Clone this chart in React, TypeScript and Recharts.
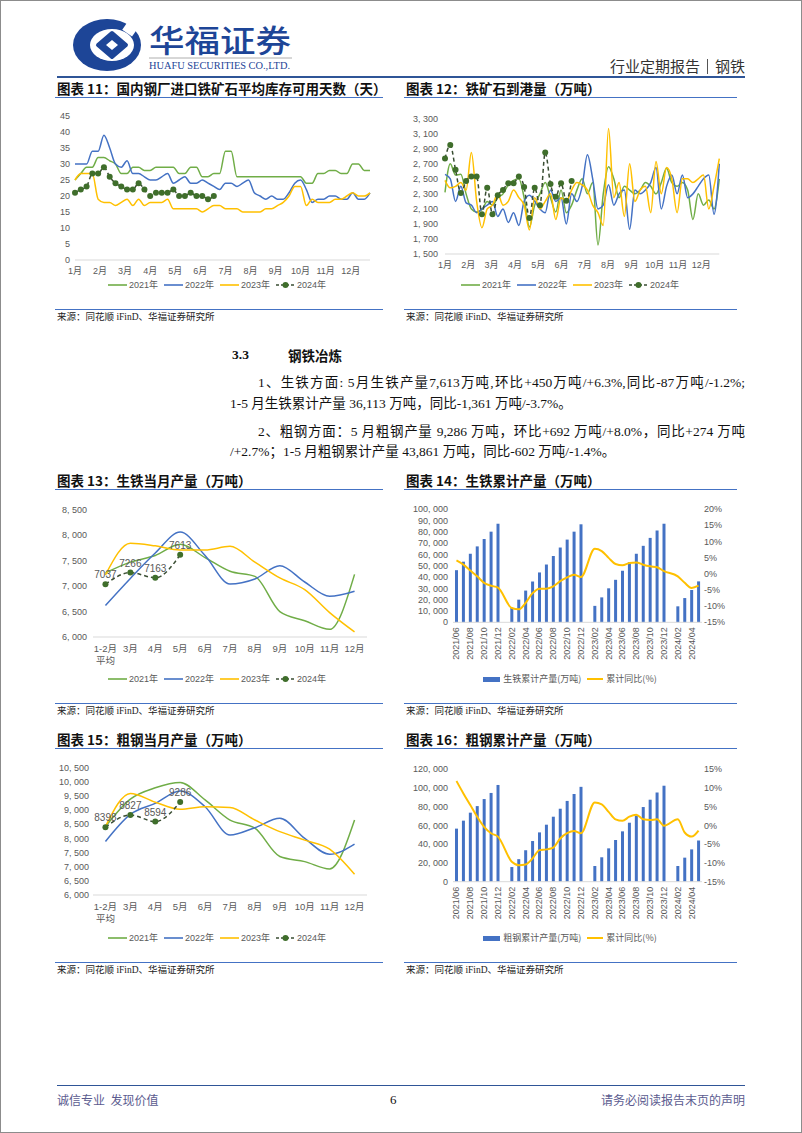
import React from "react";
import { LineChart, Line, XAxis, YAxis, ComposedChart, Bar, LabelList } from "recharts";

// ---- labels ----
const monthLabels = ["1月", "2月", "3月", "4月", "5月", "6月", "7月", "8月", "9月", "10月", "11月", "12月"];
const prodCats = ["1-2月\n平均", "3月", "4月", "5月", "6月", "7月", "8月", "9月", "10月", "11月", "12月"];
const cumMonths = [
  "2021/06", "2021/07", "2021/08", "2021/09", "2021/10", "2021/11", "2021/12",
  "2022/01", "2022/02", "2022/03", "2022/04", "2022/05", "2022/06", "2022/07", "2022/08", "2022/09", "2022/10", "2022/11", "2022/12",
  "2023/01", "2023/02", "2023/03", "2023/04", "2023/05", "2023/06", "2023/07", "2023/08", "2023/09", "2023/10", "2023/11", "2023/12",
  "2024/01", "2024/02", "2024/03", "2024/04", "2024/05",
];

// ---- 图表11: 库存可用天数 (weekly) ----
const inv2021 = [25, 27, 29, 29, 32, 32, 31, 30, 27, 27, 29, 29, 28, 28, 29, 29, 29, 29, 27, 27, 29, 29, 26, 26, 27, 27, 34, 34, 26, 26, 26, 26, 26, 26, 26, 26, 26, 26, 26, 26, 24, 24, 27, 27, 28, 28, 27, 27, 30, 30, 28, 28];
const inv2022 = [30, 30, 30, 34, 34, 39, 35, 30, 29, 31, 27, 27, 26, 25, 25, 26, 27, 24, 25, 26, 24, 24, 25, 24, 23, 22, 24, 24, 23, 24, 25, 21, 20, 19, 20, 19, 19, 21, 24, 25, 22, 18, 19, 19, 20, 20, 19, 19, 21, 19, 19, 21];
const inv2023 = [25, 27, 27, 27, 19, 18, 18, 17, 18, 19, 17, 19, 17, 18, 18, 18, 19, 16, 16, 16, 16, 16, 15, 16, 17, 17, 16, 16, 16, 15, 15, 15, 15, 16, 16, 17, 18, 20, 23, 23, 17, 19, 18, 18, 18, 19, 19, 20, 21, 20, 20, 21];
const inv2024 = [21, 22, 23, 27, 27, 29, 26, 24, 23, 22, 22, 24, 22, 20, 21, 21, 21, 22, 20, 20, 21, 20, 20, 19, 20];

// ---- 图表12: 铁矿石到港量 (weekly) ----
const arr2021 = [2320, 2700, 2550, 2560, 2300, 2100, 2060, 2090, 2200, 2150, 2250, 2300, 2420, 2480, 2500, 2250, 1860, 2150, 2300, 2450, 2250, 2060, 2350, 2050, 2150, 2350, 2500, 2300, 2450, 1620, 2300, 2660, 2500, 2250, 2400, 2350, 2300, 2350, 2450, 2400, 2300, 2450, 2640, 2450, 2400, 2450, 2350, 1960, 2300, 2150, 2220, 2100, 2500];
const arr2022 = [2560, 2500, 2200, 2400, 2180, 2150, 2050, 2100, 2150, 2200, 2000, 2100, 1920, 2050, 1880, 2200, 2280, 2200, 2100, 2050, 2350, 2200, 2250, 1900, 2300, 2200, 2400, 2820, 2500, 2100, 2150, 2420, 2150, 2300, 2350, 1830, 2350, 2300, 2350, 2450, 2650, 2100, 2400, 2550, 2300, 2550, 2250, 2300, 2400, 2500, 2550, 2030, 2700];
const arr2023 = [2480, 2380, 2400, 2450, 2350, 2850, 2200, 1850, 2100, 2150, 2300, 2150, 2200, 2350, 2250, 2150, 1820, 2250, 2100, 2200, 2300, 1960, 2250, 2200, 2350, 2450, 2420, 2350, 2150, 2050, 1880, 3170, 2250, 2450, 2000, 2700, 2200, 2350, 2400, 2050, 2730, 2300, 2650, 2500, 2050, 2500, 2500, 2450, 2500, 2550, 2100, 2400, 2770];
const arr2024 = [2770, 2950, 2620, 2310, 2470, 2530, 2530, 2030, 2380, 2030, 2280, 2350, 2440, 2440, 2530, 2390, 1980, 2380, 2150, 2850, 2430, 2260, 2440, 2210, 2470];

// ---- 图表13: 生铁当月产量 ----
const pig2021 = [7260, 7470, 7600, 7820, 7560, 7290, 7190, 6500, 6320, 6150, 7230];
const pig2022 = [6620, 7150, 7650, 8060, 7600, 7040, 7140, 7400, 7080, 6800, 6900];
const pig2023 = [7220, 7840, 7790, 7710, 7710, 7780, 7470, 7160, 6930, 6480, 6100];
const pig2024 = [7037, 7266, 7163, 7613];

// ---- 图表15: 粗钢当月产量 ----
const steel2021 = [8420, 9390, 9790, 9980, 9360, 8650, 8360, 7360, 7180, 6920, 8650];
const steel2022 = [7890, 8850, 9240, 9680, 9120, 8120, 8380, 8710, 8000, 7440, 7800];
const steel2023 = [8420, 9590, 9280, 9030, 9120, 9090, 8650, 8240, 7940, 7620, 6730];
const steel2024 = [8398, 8827, 8594, 9286];

// ---- 图表14: 生铁累计 ----
const pigCum = [46000, 53500, 60500, 67000, 73500, 80000, 87000, null, 12700, 20000, 28000, 36000, 44000, 51000, 58500, 66000, 73000, 80000, 86500, null, 14500, 22000, 30000, 37500, 45500, 53000, 60500, 67500, 74500, 81000, 87000, null, 14100, 21400, 28500, 36113];
const pigYoy = [4.1, 2.8, 1.0, -0.8, -2.8, -3.7, -4.3, null, -10.6, -11.0, -9.0, -6.0, -4.6, -4.6, -3.9, -2.3, -1.1, -0.3, -1.0, null, 7.7, 7.0, 4.9, 3.0, 2.6, 3.3, 3.5, 2.8, 2.3, 2.0, 0.8, null, -0.8, -2.8, -4.4, -3.7];

// ---- 图表16: 粗钢累计 ----
const steelCum = [56500, 65000, 73500, 80500, 88000, 94500, 103000, null, 15600, 24000, 33500, 43300, 52500, 60700, 69200, 77700, 86000, 93400, 101000, null, 16700, 26000, 35500, 44400, 53600, 62800, 70300, 79500, 87300, 95100, 102200, null, 16700, 25600, 34400, 43861];
const steelYoy = [11.8, 8.5, 5.4, 2.3, -0.4, -2.1, -3.0, null, -9.7, -10.6, -10.4, -8.8, -6.6, -6.4, -5.9, -3.5, -2.1, -1.5, -2.1, null, 6.1, 5.6, 3.6, 1.6, 1.2, 2.3, 2.8, 1.6, 1.4, 1.6, -0.1, null, 1.6, -1.9, -3.0, -1.4];

// ---- tables for recharts ----
const invData = inv2021.map((v, i) => ({ w: i, y2021: v, y2022: inv2022[i], y2023: inv2023[i], y2024: inv2024[i] ?? null }));
const arrData = arr2021.map((v, i) => ({ w: i, y2021: v, y2022: arr2022[i], y2023: arr2023[i], y2024: arr2024[i] ?? null }));
const pigData = prodCats.map((c, i) => ({ c, y2021: pig2021[i], y2022: pig2022[i], y2023: pig2023[i], y2024: pig2024[i] ?? null }));
const steelData = prodCats.map((c, i) => ({ c, y2021: steel2021[i], y2022: steel2022[i], y2023: steel2023[i], y2024: steel2024[i] ?? null }));
const pigCumData = cumMonths.map((m, i) => ({ m, cum: pigCum[i], yoy: pigYoy[i] }));
const steelCumData = cumMonths.map((m, i) => ({ m, cum: steelCum[i], yoy: steelYoy[i] }));

const weeks11 = 52;
const weeks12 = 53;
const ticks11 = monthLabels.map((_, k) => (k * weeks11) / 12);
const ticks12 = monthLabels.map((_, k) => (k * weeks12) / 12);

const SANS = "'Liberation Sans', Arial, 'Noto Sans CJK SC', sans-serif";
const SERIF = "'Liberation Serif', 'Noto Sans CJK SC', serif";
const CJK = "'Noto Sans CJK SC', sans-serif";
const C21 = "#70AD47";
const C22 = "#4472C4";
const C23 = "#FFC000";
const C24 = "#3F6E2B";
const C24L = "#3A4E33";
const AXIS = "#D9D9D9";
const TXT = "#595959";
const BLUE = "#4472C4";

const tick = { fontSize: 9, fill: TXT };
// comma followed by a no-break space, so recharts does not wrap the label
const fmt = (v: number) => v.toLocaleString("en-US").replace(/,/g, ",\u00A0");

function yearLines() {
  return [
    <Line key="a" dataKey="y2021" stroke={C21} strokeWidth={1.5} dot={false} type="monotone" isAnimationActive={false} />,
    <Line key="b" dataKey="y2022" stroke={C22} strokeWidth={1.5} dot={false} type="monotone" isAnimationActive={false} />,
    <Line key="c" dataKey="y2023" stroke={C23} strokeWidth={1.5} dot={false} type="monotone" isAnimationActive={false} />,
  ];
}

function CatTick(props: any) {
  const { x, y, payload } = props;
  const parts = String(payload.value).split("\n");
  return (
    <text x={x} y={y} textAnchor="middle" fontSize={9.5} fill={TXT}>
      {parts.map((p, k) => (
        <tspan key={k} x={x} dy={k === 0 ? "0.71em" : "1.25em"}>{p}</tspan>
      ))}
    </text>
  );
}

function RotTick(props: any) {
  const { x, y, payload } = props;
  return (
    <text x={x} y={y} transform={`rotate(-90 ${x} ${y})`} textAnchor="end" dominantBaseline="central" fontSize={9} fill={TXT}>
      {payload.value}
    </text>
  );
}

function LegendIcon({ color, dashed }: { color: string; dashed?: boolean }) {
  return (
    <svg width={19} height={8} style={{ display: "block", flex: "none" }}>
      <line x1={0} y1={4} x2={19} y2={4} stroke={dashed ? C24L : color} strokeWidth={1.6} strokeDasharray={dashed ? "3 2" : undefined} />
      {dashed && <circle cx={9.5} cy={4} r={3} fill={C24} />}
    </svg>
  );
}

function YearLegend({ cx, cy }: { cx: number; cy: number }) {
  const items = [
    { t: "2021年", c: C21 },
    { t: "2022年", c: C22 },
    { t: "2023年", c: C23 },
    { t: "2024年", c: C24, d: true },
  ];
  return (
    <div style={{ position: "absolute", left: cx - 150, top: cy - 6, width: 300, height: 12, display: "flex", justifyContent: "center", alignItems: "center", gap: 6, fontFamily: SANS, fontSize: 9, lineHeight: "12px", color: TXT, whiteSpace: "nowrap" }}>
      {items.map((it) => (
        <div key={it.t} style={{ display: "flex", alignItems: "center", gap: 2, flex: "none" }}>
          <LegendIcon color={it.c} dashed={it.d} />
          <span>{it.t}</span>
        </div>
      ))}
    </div>
  );
}

function CumLegend({ cx, cy, name }: { cx: number; cy: number; name: string }) {
  return (
    <div style={{ position: "absolute", left: cx - 150, top: cy - 6, width: 300, height: 12, display: "flex", justifyContent: "center", alignItems: "center", gap: 3, fontFamily: CJK, fontSize: 9, lineHeight: "12px", color: TXT, whiteSpace: "nowrap" }}>
      <div style={{ width: 17, height: 5, background: BLUE, flex: "none" }} />
      <span>{name}</span>
      <div style={{ width: 16, height: 2, background: C23, marginLeft: 3, flex: "none" }} />
      <span>累计同比(%)</span>
    </div>
  );
}

function Title({ x, y, w, text }: { x: number; y: number; w: number; text: string }) {
  return (
    <>
      <div style={{ position: "absolute", left: x + 2, top: y, whiteSpace: "nowrap", fontFamily: CJK, fontWeight: 700, fontSize: 13.5, lineHeight: "16px", color: "#111" }}>{text}</div>
      <div style={{ position: "absolute", left: x, top: y + 17, width: w, height: 1, background: BLUE }} />
    </>
  );
}

function Source({ x, y, w }: { x: number; y: number; w: number }) {
  return (
    <>
      <div style={{ position: "absolute", left: x, top: y, width: w, height: 1, background: BLUE }} />
      <div style={{ position: "absolute", left: x + 2, top: y + 2, whiteSpace: "nowrap", fontFamily: SERIF, fontSize: 9.5, lineHeight: "12px", color: "#222" }}>
        来源：同花顺 iFinD、华福证券研究所
      </div>
    </>
  );
}

function InventoryChart() {
  return (
    <div style={{ position: "absolute", left: 50, top: 100, fontFamily: SANS }}>
      <LineChart width={330} height={180} data={invData} margin={{ top: 16, right: 10, left: 5, bottom: 0 }}>
        <XAxis dataKey="w" type="number" domain={[0, weeks11 - 1]} ticks={ticks11} interval={0} tickFormatter={(v: number) => monthLabels[Math.round((v * 12) / weeks11)]} axisLine={{ stroke: AXIS }} tickLine={false} tick={tick} height={20} />
        <YAxis domain={[0, 45]} ticks={[0, 5, 10, 15, 20, 25, 30, 35, 40, 45]} interval={0} width={20} axisLine={false} tickLine={false} tickSize={0} tickMargin={5} tick={tick} />
        {yearLines()}
        <Line dataKey="y2024" stroke={C24L} strokeWidth={1.5} strokeDasharray="4 3" type="monotone" dot={{ r: 3, fill: C24, stroke: C24, strokeWidth: 0 }} isAnimationActive={false} />
      </LineChart>
    </div>
  );
}

function ArrivalChart() {
  return (
    <div style={{ position: "absolute", left: 400, top: 100, fontFamily: SANS }}>
      <LineChart width={330} height={174} data={arrData} margin={{ top: 18.7, right: 10.7, left: 0, bottom: 0 }}>
        <XAxis dataKey="w" type="number" domain={[0, weeks12 - 1]} ticks={ticks12} interval={0} tickFormatter={(v: number) => monthLabels[Math.round((v * 12) / weeks12)]} axisLine={{ stroke: AXIS }} tickLine={false} tick={tick} height={20} />
        <YAxis domain={[1500, 3300]} ticks={[1500, 1700, 1900, 2100, 2300, 2500, 2700, 2900, 3100, 3300]} interval={0} tickFormatter={fmt} width={45} axisLine={false} tickLine={false} tickSize={0} tickMargin={7} tick={tick} />
        {yearLines()}
        <Line dataKey="y2024" stroke={C24L} strokeWidth={1.5} strokeDasharray="4 3" type="monotone" dot={{ r: 3, fill: C24, stroke: C24, strokeWidth: 0 }} isAnimationActive={false} />
      </LineChart>
    </div>
  );
}

function MonthlyChart({ top, height, mTop, data, domain, ticks, labelMargin }: any) {
  return (
    <div style={{ position: "absolute", left: 50, top, fontFamily: SANS }}>
      <LineChart width={330} height={height} data={data} margin={{ top: mTop, right: 13, left: 0, bottom: 0 }}>
        <XAxis dataKey="c" interval={0} padding={{ left: 12.45, right: 12.45 }} axisLine={{ stroke: AXIS }} tickLine={false} tick={<CatTick />} height={30} />
        <YAxis domain={domain} ticks={ticks} interval={0} tickFormatter={fmt} width={43} axisLine={false} tickLine={false} tickSize={0} tickMargin={labelMargin} tick={tick} />
        {yearLines()}
        <Line dataKey="y2024" stroke={C24L} strokeWidth={1.5} strokeDasharray="4 3" type="monotone" dot={{ r: 3, fill: C24, stroke: C24, strokeWidth: 0 }} isAnimationActive={false}>
          <LabelList dataKey="y2024" position="top" offset={6} fill={TXT} fontSize={10} />
        </Line>
      </LineChart>
    </div>
  );
}

function CumChart({ top, height, mTop, data, lDomain, lTicks, rDomain, rTicks }: any) {
  return (
    <div style={{ position: "absolute", left: 400, top, fontFamily: SANS }}>
      <ComposedChart width={345} height={height} data={data} margin={{ top: mTop, right: 5, left: 0, bottom: 0 }}>
        <XAxis dataKey="m" interval={1} axisLine={{ stroke: AXIS }} tickLine={false} tickSize={0} tickMargin={5} tick={<RotTick />} height={42.7} />
        <YAxis yAxisId="l" domain={lDomain} ticks={lTicks} interval={0} tickFormatter={fmt} width={53} axisLine={false} tickLine={false} tickSize={0} tickMargin={5} tick={tick} />
        <YAxis yAxisId="r" orientation="right" domain={rDomain} ticks={rTicks} interval={0} tickFormatter={(v: number) => `${v}%`} width={38} axisLine={false} tickLine={false} tickSize={0} tickMargin={2} tick={tick} />
        <Bar yAxisId="l" dataKey="cum" fill={BLUE} barSize={3} isAnimationActive={false} />
        <Line yAxisId="r" dataKey="yoy" stroke={C23} strokeWidth={2} dot={false} type="monotone" connectNulls isAnimationActive={false} />
      </ComposedChart>
    </div>
  );
}

function Logo() {
  return (
    <svg style={{ position: "absolute", left: 66, top: 16 }} width={82} height={58} viewBox="0 0 82 58">
      <ellipse cx={41} cy={29} rx={34} ry={26} fill="#1D4597" />
      <ellipse cx={46} cy={29} rx={22} ry={16} fill="#fff" />
      <path d="M46 17 L60 29 L46 41 L32 29 Z" fill="#1D4597" stroke="#1D4597" strokeWidth={4} strokeLinejoin="round" />
      <path d="M46 24 L52 29 L46 34 L40 29 Z" fill="#fff" />
      <rect x={58} y={8} width={12} height={10} fill="#fff" transform="rotate(35 64 13)" />
    </svg>
  );
}

export default function App() {
  const body: React.CSSProperties = { position: "absolute", fontFamily: SERIF, fontSize: 13.5, lineHeight: "18px", color: "#111", whiteSpace: "nowrap" };
  return (
    <div style={{ position: "absolute", left: 0, top: 0, width: 802, height: 1133, background: "#fff", overflow: "hidden" }}>
      {/* header */}
      <Logo />
      <svg style={{ position: "absolute", left: 146, top: 14 }} width={152} height={62}>
        <text x={3} y={38} textLength={142} lengthAdjust="spacingAndGlyphs" fontFamily={CJK} fontSize={31} fontWeight={500} fill="#1D4597">华福证券</text>
        <line x1={3} y1={44} x2={146} y2={44} stroke="#9a9a9a" strokeWidth={0.8} />
        <text x={3} y={55} textLength={141} lengthAdjust="spacingAndGlyphs" fontFamily="'Liberation Serif', serif" fontSize={10.5} fill="#1D4597">HUAFU SECURITIES CO.,LTD.</text>
      </svg>
      <div style={{ position: "absolute", right: 57, top: 57, fontFamily: CJK, fontSize: 15, lineHeight: "18px", color: "#333", display: "flex", alignItems: "center", gap: 7, whiteSpace: "nowrap" }}>
        <span>行业定期报告</span>
        <span style={{ width: 1, height: 15, background: "#555" }} />
        <span>钢铁</span>
      </div>
      <div style={{ position: "absolute", left: 57, top: 76, width: 688, height: 2, background: "#2F5597" }} />

      {/* row 1 */}
      <Title x={55} y={80} w={328} text="图表 11：国内钢厂进口铁矿石平均库存可用天数（天）" />
      <Title x={404} y={80} w={333} text="图表 12：铁矿石到港量（万吨）" />
      <InventoryChart />
      <ArrivalChart />
      <YearLegend cx={217} cy={285} />
      <YearLegend cx={570} cy={285} />
      <Source x={55} y={309} w={328} />
      <Source x={404} y={309} w={333} />

      {/* text */}
      <div style={{ ...body, left: 232, top: 346, fontWeight: 700 }}>3.3</div>
      <div style={{ ...body, left: 288, top: 346, fontFamily: CJK, fontWeight: 700, fontSize: 13.5 }}>钢铁冶炼</div>
      <div style={{ ...body, left: 258, top: 374, width: 487, textAlign: "justify", textAlignLast: "justify" }}>1、生铁方面: 5月生铁产量7,613万吨,环比+450万吨/+6.3%,同比-87万吨/-1.2%;</div>
      <div style={{ ...body, left: 230, top: 395 }}>1-5 月生铁累计产量 36,113 万吨，同比-1,361 万吨/-3.7%。</div>
      <div style={{ ...body, left: 258, top: 423, width: 487, textAlign: "justify", textAlignLast: "justify" }}>2、粗钢方面：5 月粗钢产量 9,286 万吨，环比+692 万吨/+8.0%，同比+274 万吨</div>
      <div style={{ ...body, left: 230, top: 443 }}>/+2.7%；1-5 月粗钢累计产量 43,861 万吨，同比-602 万吨/-1.4%。</div>

      {/* row 2 */}
      <Title x={55} y={472} w={328} text="图表 13：生铁当月产量（万吨）" />
      <Title x={404} y={472} w={333} text="图表 14：生铁累计产量（万吨）" />
      <MonthlyChart top={495} height={172} mTop={14.7} data={pigData} domain={[6000, 8500]} ticks={[6000, 6500, 7000, 7500, 8000, 8500]} labelMargin={6} />
      <CumChart top={495} height={170} mTop={14} data={pigCumData} lDomain={[0, 100000]} lTicks={[0, 10000, 20000, 30000, 40000, 50000, 60000, 70000, 80000, 90000, 100000]} rDomain={[-15, 20]} rTicks={[-15, -10, -5, 0, 5, 10, 15, 20]} />
      <YearLegend cx={217} cy={679} />
      <CumLegend cx={570} cy={679} name="生铁累计产量(万吨)" />
      <Source x={55} y={703} w={328} />
      <Source x={404} y={703} w={333} />

      {/* row 3 */}
      <Title x={55} y={731} w={328} text="图表 15：粗钢当月产量（万吨）" />
      <Title x={404} y={731} w={333} text="图表 16：粗钢累计产量（万吨）" />
      <MonthlyChart top={750} height={175} mTop={17.7} data={steelData} domain={[6000, 10500]} ticks={[6000, 6500, 7000, 7500, 8000, 8500, 9000, 9500, 10000, 10500]} labelMargin={4} />
      <CumChart top={750} height={174.4} mTop={19} data={steelCumData} lDomain={[0, 120000]} lTicks={[0, 20000, 40000, 60000, 80000, 100000, 120000]} rDomain={[-15, 15]} rTicks={[-15, -10, -5, 0, 5, 10, 15]} />
      <YearLegend cx={217} cy={938} />
      <CumLegend cx={570} cy={938} name="粗钢累计产量(万吨)" />
      <Source x={55} y={962} w={328} />
      <Source x={404} y={962} w={333} />

      {/* footer */}
      <div style={{ position: "absolute", left: 57, top: 1085, width: 688, height: 1, background: "#2F5597" }} />
      <div style={{ position: "absolute", left: 57, top: 1092, fontFamily: CJK, fontSize: 12, lineHeight: "16px", color: "#5B5B8F", whiteSpace: "pre" }}>诚信专业  发现价值</div>
      <div style={{ position: "absolute", left: 390, top: 1092, fontFamily: SERIF, fontSize: 13, lineHeight: "16px", color: "#111" }}>6</div>
      <div style={{ position: "absolute", right: 57, top: 1092, fontFamily: CJK, fontSize: 12, lineHeight: "16px", color: "#5B5B8F", whiteSpace: "nowrap" }}>请务必阅读报告末页的声明</div>

      {/* page frame */}
      <div style={{ position: "absolute", left: 0, top: 0, width: 802, height: 1133, boxSizing: "border-box", border: "1px solid #8c8c8c", pointerEvents: "none" }} />
    </div>
  );
}
